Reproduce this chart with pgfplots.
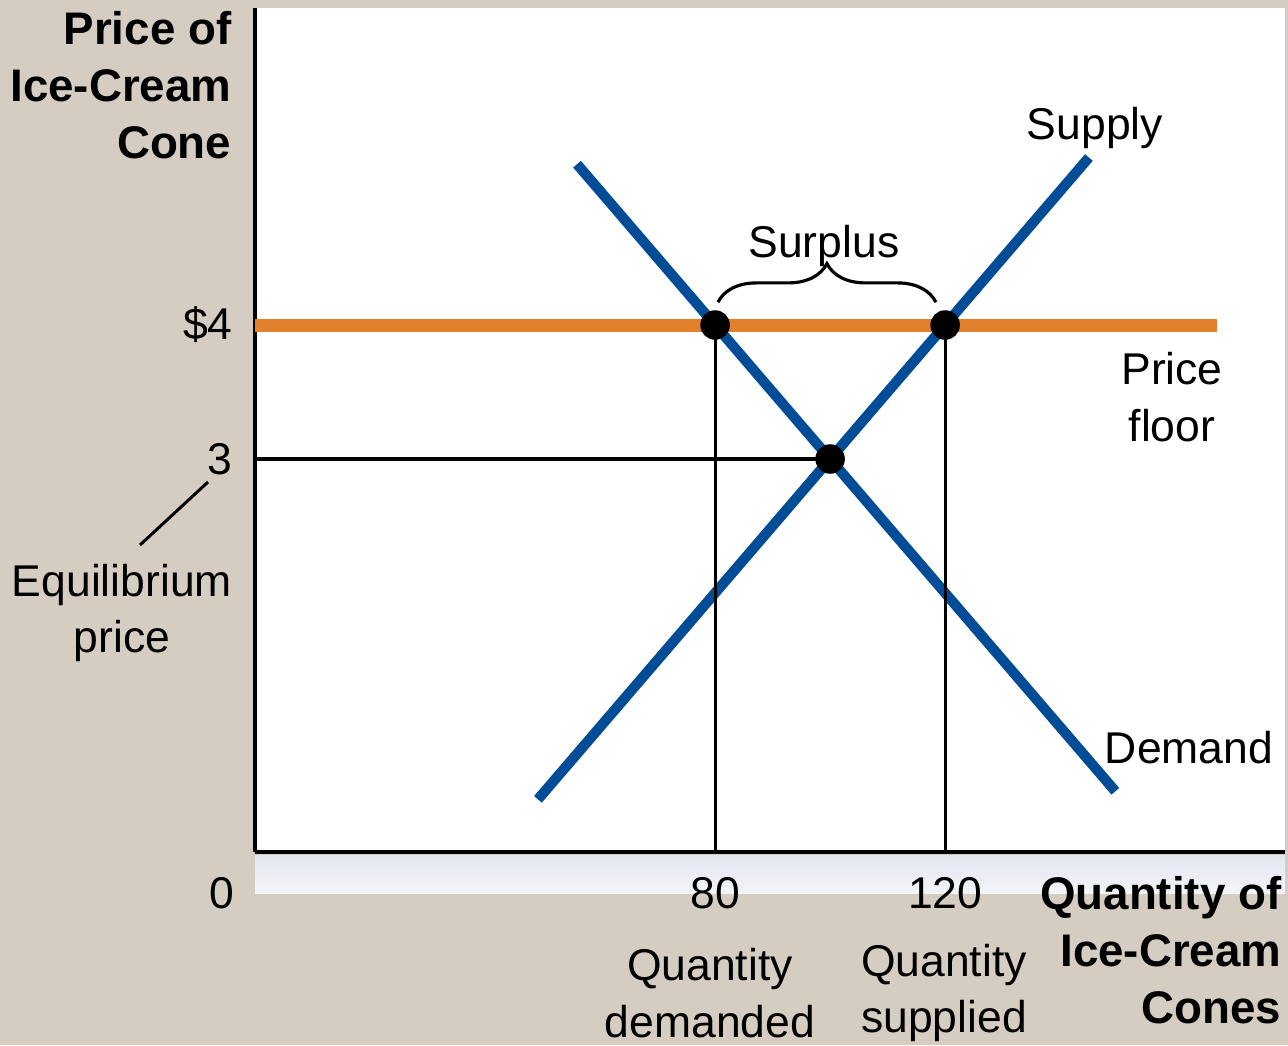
\documentclass[border=0pt]{standalone}
\usepackage{fontspec}
\setmainfont{Liberation Sans}
\usepackage{pgfplots}
\pgfplotsset{compat=1.18}
\usetikzlibrary{decorations.pathreplacing}
\definecolor{bg}{RGB}{213,205,194}
\definecolor{sblue}{RGB}{0,76,151}
\definecolor{forange}{RGB}{227,128,43}
\definecolor{stripA}{RGB}{226,230,239}
\definecolor{stripB}{RGB}{243,244,248}
\newcommand{\lbl}{\fontsize{12.66}{16.2}\selectfont}
\newcommand{\blbl}{\fontsize{13}{16.2}\selectfont\bfseries}
\begin{document}
\begin{tikzpicture}[font=\lbl]
\fill[bg] (-2.55,-1.93) rectangle (10.33,8.52);
\fill[white] (0,0) rectangle (10.30,8.44);
\shade[top color=stripA, bottom color=stripB] (0,-0.03) rectangle (10.30,-0.41);
\begin{axis}[
  at={(0,0)}, anchor=south west, scale only axis,
  width=10.30cm, height=8.44cm,
  xmin=0, xmax=179.1, ymin=0.067, ymax=6.366,
  axis x line=bottom, axis y line=left,
  axis line style={-, line width=1.2pt, black},
  xtick={80,120}, ytick={3,4}, yticklabels={3,\$4},
  major tick length=0pt,
  /pgf/number format/assume math mode=true,
  ticklabel style={font=\lbl},
  yticklabel style={inner sep=0pt, anchor=east, xshift=-6.2pt},
  xticklabel style={inner sep=0pt, anchor=north, yshift=-7.1pt},
  clip=false,
]
\addplot[forange, line width=3.7pt, line cap=butt] coordinates {(0,4) (167.3,4)};
\addplot[sblue, line width=2.9pt] coordinates {(49.2,0.46) (145,5.25)};
\addplot[sblue, line width=2.9pt] coordinates {(56,5.2) (149.6,0.52)};
\addplot[black, line width=0.9pt] coordinates {(80,0.067) (80,4)};
\addplot[black, line width=0.9pt] coordinates {(120,0.067) (120,4)};
\addplot[black, line width=0.9pt] coordinates {(0,3) (100,3)};
\addplot[only marks, mark=*, mark size=4pt, black] coordinates {(80,4) (120,4) (100,3)};
\draw[black, line width=0.9pt, decorate, decoration={brace, amplitude=11pt}]
  (axis cs:80.5,4.17) -- (axis cs:118.4,4.17);
\end{axis}
\node at (8.40,7.24) {Supply};
\node at (5.69,6.06) {Surplus};
\node[align=center] at (9.17,4.55) {Price\\floor};
\node at (9.34,1.04) {Demand};
\node at (-0.33,-0.41) {0};
\node[align=center] at (4.55,-1.41) {Quantity\\demanded};
\node[align=center] at (6.89,-1.41) {Quantity\\supplied};
\node[align=right, anchor=east, inner sep=0pt, font=\blbl] at (10.27,-0.98) {Quantity of\\Ice-Cream\\Cones};
\node[align=right, anchor=east, inner sep=0pt, font=\blbl] at (-0.23,7.67) {Price of\\Ice-Cream\\Cone};
\node[align=center] at (-1.33,2.39) {Equilibrium\\price};
\draw[black, line width=0.85pt] (-1.15,3.07) -- (-0.47,3.70);
\pgfresetboundingbox
\useasboundingbox (-2.55,-1.93) rectangle (10.33,8.52);
\end{tikzpicture}
\end{document}
